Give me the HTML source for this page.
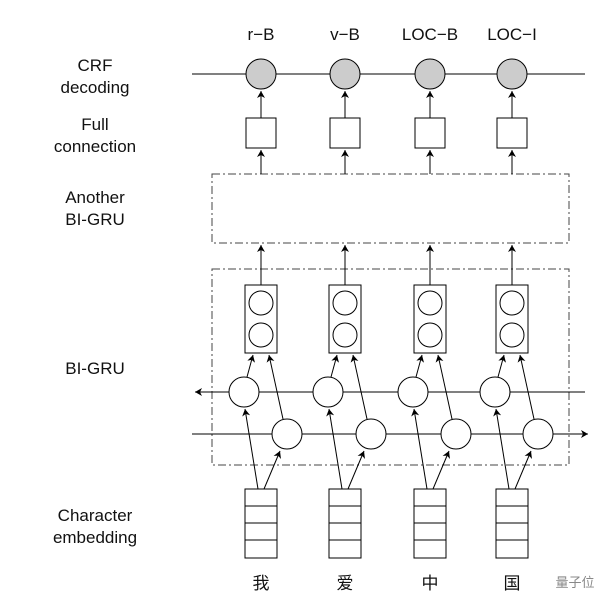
<!DOCTYPE html>
<html><head><meta charset="utf-8"><style>
body{margin:0;background:#fff;}
svg text{font-family:"Liberation Sans","Noto Sans CJK SC",sans-serif;font-size:17px;fill:#111;text-anchor:middle}
</style></head><body>
<svg width="610" height="610" viewBox="0 0 610 610" xmlns="http://www.w3.org/2000/svg">
<defs><marker id="a" markerWidth="8" markerHeight="8" refX="7" refY="4" orient="auto" markerUnits="userSpaceOnUse"><path d="M0,0 L7,4 L0,8 L2,4 z" fill="#000"/></marker></defs>
<g stroke="#000" stroke-width="1" fill="none">
<line x1="192" y1="74" x2="585" y2="74"/>
<rect x="212" y="174" width="357" height="69" stroke="#444" stroke-dasharray="8,3,2,3"/>
<rect x="212" y="269" width="357" height="196" stroke="#444" stroke-dasharray="8,3,2,3"/>
<line x1="585" y1="392" x2="195" y2="392" marker-end="url(#a)"/>
<line x1="192" y1="434" x2="588" y2="434" marker-end="url(#a)"/>
</g>
<g id="col" transform="translate(261,0)" stroke="#000" stroke-width="1" fill="#fff">
<circle cx="0" cy="74" r="15" fill="#ccc"/>
<line x1="0" y1="118" x2="0" y2="91" marker-end="url(#a)"/>
<rect x="-15" y="118" width="30" height="30"/>
<line x1="0" y1="174" x2="0" y2="150" marker-end="url(#a)"/>
<line x1="0" y1="285" x2="0" y2="245" marker-end="url(#a)"/>
<rect x="-16" y="285" width="32" height="68"/>
<circle cx="0" cy="303" r="12"/><circle cx="0" cy="335" r="12"/>
<circle cx="-17" cy="392" r="15"/>
<circle cx="26" cy="434" r="15"/>
<line x1="-14" y1="377" x2="-8" y2="355" marker-end="url(#a)"/>
<line x1="22" y1="419" x2="8" y2="355" marker-end="url(#a)"/>
<line x1="-3" y1="489" x2="-16" y2="409" marker-end="url(#a)"/>
<line x1="3" y1="489" x2="19" y2="451" marker-end="url(#a)"/>
<rect x="-16" y="489" width="32" height="69"/>
<line x1="-16" y1="506" x2="16" y2="506"/><line x1="-16" y1="523" x2="16" y2="523"/><line x1="-16" y1="540" x2="16" y2="540"/>
</g>
<use href="#col" transform="translate(84,0)"/>
<use href="#col" transform="translate(169,0)"/>
<use href="#col" transform="translate(251,0)"/>
<text x="261" y="40">r−B</text><text x="345" y="40">v−B</text><text x="430" y="40">LOC−B</text><text x="512" y="40">LOC−I</text>
<text x="95" y="71">CRF</text><text x="95" y="93">decoding</text>
<text x="95" y="130">Full</text><text x="95" y="152">connection</text>
<text x="95" y="203">Another</text><text x="95" y="225">BI-GRU</text>
<text x="95" y="374">BI-GRU</text>
<text x="95" y="521">Character</text><text x="95" y="543">embedding</text>
<text x="261" y="589">我</text><text x="345" y="589">爱</text><text x="430" y="589">中</text><text x="512" y="589">国</text>
<text x="575" y="587" style="font-size:13px;fill:#888">量子位</text>
</svg>
</body></html>
